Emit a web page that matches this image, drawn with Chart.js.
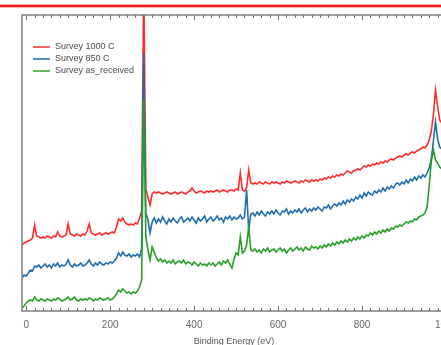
<!DOCTYPE html>
<html>
<head>
<meta charset="utf-8">
<script src="https://cdn.jsdelivr.net/npm/chart.js@4.4.0/dist/chart.umd.min.js"></script>
<style>
  html, body { margin: 0; padding: 0; background: #fff; overflow: hidden; width: 441px; height: 345px; }
  #topline { position: absolute; left: 0; top: 4px; width: 441px; height: 2px; background: #ff1414;
             border-top: 1px solid #ffb4b4; border-bottom: 1px solid #ffb4b4; }
  #wrap { position: absolute; left: 0; top: 0; width: 470px; height: 345px; }
</style>
</head>
<body>
<div id="topline"></div>
<div id="wrap"><canvas id="c" width="470" height="345"></canvas></div>
<script>
// Binding energy grid (eV)
const energies = [
  -10,-5,0,5,10,15,20,25,30,35,
  40,45,50,55,60,65,70,75,80,85,
  90,95,100,105,110,115,120,125,130,135,
  140,145,150,155,160,165,170,175,180,185,
  190,195,200,205,210,215,220,225,230,235,
  240,245,250,255,260,265,270,275,280,285,
  290,295,300,305,310,315,320,325,330,335,
  340,345,350,355,360,365,370,375,380,385,
  390,395,400,405,410,415,420,425,430,435,
  440,445,450,455,460,465,470,475,480,485,
  490,495,500,505,510,515,520,525,530,535,
  540,545,550,555,560,565,570,575,580,585,
  590,595,600,605,610,615,620,625,630,635,
  640,645,650,655,660,665,670,675,680,685,
  690,695,700,705,710,715,720,725,730,735,
  740,745,750,755,760,765,770,775,780,785,
  790,795,800,805,810,815,820,825,830,835,
  840,845,850,855,860,865,870,875,880,885,
  890,895,900,905,910,915,920,925,930,935,
  940,945,950,955,960,965,970,975,980,985,
  990,995,1000
];

// Intensities (arbitrary units, offset traces)
const survey1000 = [
  66,68,69,70,71,73,86,75,74,73,
  74,73,75,74,73,75,74,79,75,74,
  75,76,87,77,76,75,77,76,75,77,
  76,80,87,78,77,76,77,78,76,77,
  78,77,78,79,78,84,92,90,93,89,
  87,86,87,86,88,87,93,100,330,122,
  114,106,117,119,118,119,118,117,118,119,
  118,117,118,119,117,118,119,118,117,119,
  120,123,120,118,119,120,119,118,120,119,
  120,119,120,121,119,120,121,120,119,121,
  121,120,122,121,138,121,120,123,141,128,
  127,128,127,129,128,127,129,128,127,129,
  128,129,128,127,129,128,130,129,128,129,
  130,129,128,130,129,131,130,129,131,130,
  131,130,132,131,133,132,134,133,135,134,
  136,135,137,136,138,140,139,138,140,141,
  142,141,143,145,144,146,145,147,146,148,
  147,149,148,150,149,151,152,151,153,154,
  155,154,156,157,156,158,159,158,160,161,
  162,164,163,166,171,180,196,221,205,191,
  188,187,186
];
const survey850 = [
  33,36,35,38,41,40,45,44,46,43,
  45,47,44,46,43,47,45,48,44,46,
  45,47,51,46,44,47,45,46,48,45,
  46,48,51,47,45,48,46,49,47,46,
  48,47,49,48,50,53,58,55,59,56,
  55,57,54,56,55,57,54,62,258,98,
  91,78,89,93,88,92,89,94,90,87,
  92,89,93,90,88,92,94,89,91,93,
  90,94,91,88,93,90,92,95,89,92,
  94,90,92,95,91,93,89,94,92,95,
  91,94,92,93,96,92,94,121,81,97,
  98,95,99,96,100,97,95,99,97,100,
  97,101,98,96,100,99,102,97,100,98,
  101,99,102,98,101,103,99,102,100,103,
  101,104,102,100,104,103,106,102,105,107,
  105,108,106,110,107,111,109,112,110,114,
  112,116,113,118,115,119,117,116,120,118,
  121,119,123,120,124,122,125,123,127,128,
  126,129,127,131,128,132,130,134,131,135,
  133,136,134,138,143,152,170,189,172,164,
  162,161,160
];
const surveyAsReceived = [
  3,5,8,10,11,10,14,11,10,12,
  11,10,12,11,10,12,11,13,12,10,
  11,12,14,11,12,14,11,10,12,11,
  12,11,13,12,10,12,11,13,12,11,
  12,13,11,12,14,17,21,19,22,20,
  18,19,17,19,18,20,24,31,211,74,
  61,51,64,59,53,50,52,49,51,48,
  50,48,51,47,49,50,48,51,47,49,
  48,46,49,47,45,48,46,47,45,48,
  46,48,45,47,49,46,50,48,51,47,
  43,52,58,56,74,58,60,66,84,61,
  60,62,59,61,58,62,60,63,59,61,
  62,59,61,63,60,62,58,61,63,60,
  62,64,61,63,60,64,62,61,65,63,
  64,62,65,63,66,64,67,65,68,66,
  69,67,70,68,71,69,72,70,73,71,
  74,72,75,73,76,75,78,76,79,77,
  80,78,81,79,82,80,83,82,85,84,
  86,85,87,89,88,90,89,92,91,94,
  95,96,98,104,125,150,161,151,148,144,
  142,141,141
];
const seriesNames = ['Survey 1000 C', 'Survey 850 C', 'Survey as_received'];
const seriesColors = ['#ff2b2b', '#1f6dae', '#25a025'];
const xTickLabels = [0, 200, 400, 600, 800, 1000];
const xMin = -10, xMax = 1000, yMin = 0, yMax = 296;
const minorStep = 20;

const toXY = arr => arr.map((v, i) => ({ x: energies[i], y: v }));
const allSeries = [survey1000, survey850, surveyAsReceived];

const framePlugin = {
  id: 'frameTicks',
  afterDatasetsDraw(chart) {
    const { ctx, chartArea: a, scales: { x } } = chart;
    ctx.save();
    ctx.strokeStyle = '#808080';
    ctx.lineWidth = 1.5;
    ctx.strokeRect(a.left, a.top, a.right - a.left, a.bottom - a.top);
    ctx.lineWidth = 1;
    ctx.strokeStyle = '#707070';
    ctx.beginPath();
    for (let v = 0; v <= xMax; v += minorStep) {
      const px = Math.round(x.getPixelForValue(v)) + 0.5;
      const len = (v % 200 === 0) ? 5 : 3;
      ctx.moveTo(px, a.bottom); ctx.lineTo(px, a.bottom - len);
      ctx.moveTo(px, a.top); ctx.lineTo(px, a.top + len);
    }
    ctx.stroke();
    // legend
    const rows = [47, 59, 71];
    ctx.font = '9px "Liberation Sans", Arial, sans-serif';
    ctx.textBaseline = 'middle';
    chart.data.datasets.forEach((ds, i) => {
      ctx.strokeStyle = ds.borderColor;
      ctx.lineWidth = 1.5;
      ctx.beginPath();
      ctx.moveTo(33, rows[i]); ctx.lineTo(50, rows[i]);
      ctx.stroke();
      ctx.fillStyle = '#4a4a4a';
      ctx.fillText(ds.label, 55, rows[i]);
    });
    ctx.restore();
  }
};

new Chart(document.getElementById('c'), {
  type: 'line',
  data: {
    datasets: allSeries.map((arr, i) => ({
      label: seriesNames[i],
      data: toXY(arr),
      borderColor: seriesColors[i],
      backgroundColor: seriesColors[i],
      borderWidth: 1.6,
      pointRadius: 0,
      tension: 0,
      order: 3 - i
    }))
  },
  options: {
    responsive: false,
    devicePixelRatio: 1,
    animation: false,
    layout: { padding: { left: 22, top: 15, right: 24, bottom: 0 } },
    plugins: { legend: { display: false }, tooltip: { enabled: false } },
    scales: {
      x: {
        type: 'linear', min: xMin, max: xMax,
        grid: { display: false },
        border: { display: false },
        ticks: { color: '#666', font: { size: 10, family: '"Liberation Sans", Arial, sans-serif' }, padding: 0, maxRotation: 0,
                 callback: v => String(v) },
        afterBuildTicks: s => { s.ticks = xTickLabels.map(v => ({ value: v })); },
        afterFit: s => { s.height = 34; },
        title: { display: true, text: 'Binding Energy (eV)', color: '#555',
                 font: { size: 9, family: '"Liberation Sans", Arial, sans-serif' }, padding: { top: 0, bottom: -2 } }
      },
      y: { display: false, min: yMin, max: yMax }
    }
  },
  plugins: [framePlugin]
});
</script>
</body>
</html>
